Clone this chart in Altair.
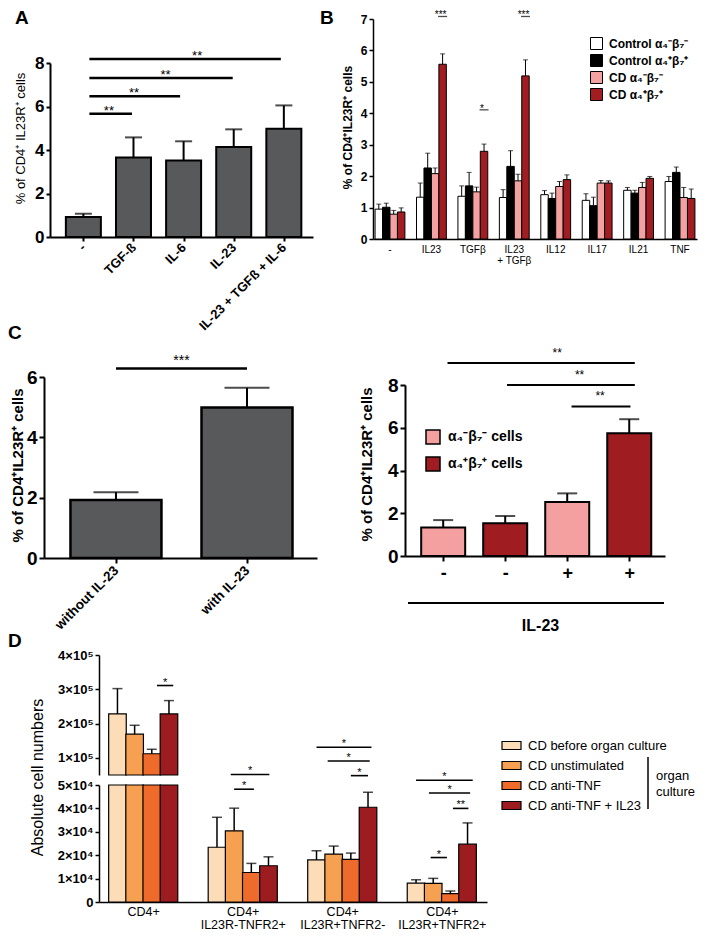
import json
import altair as alt
import pandas as pd

W, H = 692, 924
FONT = "Liberation Sans"
GRAY = "#58595b"

# ---------------- Panel A ----------------
a_cats = ["-", "TGF-ß", "IL-6", "IL-23", "IL-23 + TGFß + IL-6"]
a_vals = [0.92, 3.65, 3.52, 4.14, 4.98]
a_tops = [1.07, 4.58, 4.40, 4.95, 6.05]
a_sig_x1 = [0.12, 0.12, 0.12, 0.12]
a_sig_x2 = [0.97, 1.93, 2.98, 3.94]
a_sig_y = [5.67, 6.47, 7.31, 8.18]
a_sig_tx = [0.51, 1.01, 1.64, 2.27]
a_sig_lab = ["**", "**", "**", "**"]

# ---------------- Panel B ----------------
b_groups = ["-", "IL23", "TGFβ", "IL23\n+ TGFβ", "IL12", "IL17", "IL21", "TNF"]
b_series = ["Control α₄⁻β₇⁻", "Control α₄⁺β₇⁺", "CD α₄⁻β₇⁻", "CD α₄⁺β₇⁺"]
b_colors = ["#ffffff", "#000000", "#f4a1a2", "#a11d21"]
b_ctrl_neg = [0.95, 1.33, 1.36, 1.32, 1.41, 1.23, 1.55, 1.83]
b_ctrl_neg_top = [1.11, 1.78, 1.69, 1.57, 1.54, 1.44, 1.64, 1.99]
b_ctrl_pos = [1.01, 2.26, 1.69, 2.31, 1.29, 1.06, 1.46, 2.12]
b_ctrl_pos_top = [1.14, 2.73, 2.12, 2.81, 1.46, 1.33, 1.55, 2.29]
b_cd_neg = [0.79, 2.08, 1.50, 1.85, 1.67, 1.78, 1.64, 1.32]
b_cd_neg_top = [0.91, 2.26, 1.65, 2.06, 1.83, 1.86, 1.80, 1.64]
b_cd_pos = [0.86, 5.56, 2.79, 5.19, 1.89, 1.78, 1.93, 1.29]
b_cd_pos_top = [0.99, 5.89, 3.02, 5.70, 2.04, 1.85, 1.99, 1.59]
b_sig_groups = ["IL23", "TGFβ", "IL23\n+ TGFβ"]
b_sig_y = [7.08, 4.11, 7.08]
b_sig_lab = ["***", "*", "***"]

# ---------------- Panel C (left) ----------------
cl_cats = ["without IL-23", "with IL-23"]
cl_vals = [1.92, 4.99]
cl_tops = [2.18, 5.64]
cl_sig_x1 = [0.0]
cl_sig_x2 = [1.0]
cl_sig_y = [6.28]
cl_sig_tx = [0.5]
cl_sig_lab = ["***"]

# ---------------- Panel C (right) ----------------
cr_labels = ["-", "-", "+", "+"]
cr_series = ["α₄⁻β₇⁻ cells", "α₄⁺β₇⁺ cells"]
cr_colors = ["#f4a0a1", "#9f1c20"]
cr_bar_series = ["α₄⁻β₇⁻ cells", "α₄⁺β₇⁺ cells", "α₄⁻β₇⁻ cells", "α₄⁺β₇⁺ cells"]
cr_vals = [1.33, 1.53, 2.53, 5.74]
cr_tops = [1.68, 1.87, 2.93, 6.40]
cr_sig_x1 = [0.07, 1.03, 2.07]
cr_sig_x2 = [3.09, 3.09, 3.02]
cr_sig_y = [9.03, 8.0, 7.0]
cr_sig_tx = [1.84, 2.2, 2.53]
cr_sig_lab = ["**", "**", "**"]

# ---------------- Panel D ----------------
d_groups = ["CD4+", "CD4+\nIL23R-TNFR2+", "CD4+\nIL23R+TNFR2-", "CD4+\nIL23R+TNFR2+"]
d_series = ["CD before organ culture", "CD unstimulated", "CD anti-TNF", "CD anti-TNF + IL23"]
d_colors = ["#fddcb8", "#f6a152", "#ee6b2c", "#9d1c20"]
d_before = [228000, 23400, 18000, 8100]
d_before_top = [302000, 36200, 21900, 9500]
d_unstim = [169000, 30400, 20500, 8000]
d_unstim_top = [195000, 40100, 23900, 10100]
d_antitnf = [112000, 12600, 18200, 3600]
d_antitnf_top = [125000, 16500, 20900, 4700]
d_il23 = [228000, 15500, 40500, 24700]
d_il23_top = [267000, 19300, 46900, 33800]
d_sig_g = [0, 1, 1, 2, 2, 2, 3, 3, 3, 3]
d_sig_b1 = [2.3, 1.0, 0.8, 0.0, 0.65, 2.0, 0.0, 0.75, 2.15, 0.85]
d_sig_b2 = [3.25, 2.15, 3.05, 3.2, 3.1, 3.0, 3.3, 3.15, 3.05, 1.8]
d_sig_y = [311000, 48200, 54500, 131000, 91000, 54000, 52000, 46600, 40000, 19000]
d_sig_lab = ["*", "*", "*", "*", "*", "*", "*", "*", "**", "*"]


def js(v):
    return json.dumps(v, ensure_ascii=False)


def lin(d0, d1, r0, r1):
    return alt.Scale(domain=[d0, d1], range=[r0, r1], nice=False, zero=False)


def note(text, x, y, size, weight="bold", align="left", baseline="top"):
    return alt.Chart(pd.DataFrame({"t": [text]})).mark_text(
        fontSize=size, fontWeight=weight, align=align, baseline=baseline,
        font=FONT, color="black").encode(text="t:N", x=alt.value(x), y=alt.value(y))


def yaxis(offset, values, lsize, title, tsize, tweight, tx, ty, tick=4, dw=2, labelExpr=None):
    kw = dict(orient="left", offset=offset, values=values, labelFontSize=lsize,
              labelFontWeight="bold", labelPadding=2, tickSize=tick, tickWidth=dw,
              domainWidth=dw, labelFlush=False, labelOverlap=False, grid=False)
    if title is None:
        kw["title"] = None
    else:
        kw.update(title=title, titleFontSize=tsize, titleFontWeight=tweight,
                  titleAngle=270, titleX=tx, titleY=ty, titleAlign="center",
                  titleBaseline="middle")
    if labelExpr:
        kw["labelExpr"] = labelExpr
    else:
        kw["format"] = "d"
    return alt.Axis(**kw)


# ======== Panel A ========
a_df = pd.DataFrame({"i": list(range(len(a_cats))), "val": a_vals, "top": a_tops})
a_sig = pd.DataFrame({"x1": a_sig_x1, "x2": a_sig_x2, "y": a_sig_y, "tx": a_sig_tx, "lab": a_sig_lab})
ax = lin(-0.566, 4.482, 42, 305)
ay = lin(0, 8, 229, 55)
a_xaxis = alt.Axis(orient="bottom", offset=229 - H, values=list(range(5)),
                   labelExpr=f"{js(a_cats)}[datum.value]", labelAngle=315,
                   labelAlign="right", labelBaseline="middle", labelFontSize=13,
                   labelFontWeight="bold", labelPadding=4, tickSize=4, tickWidth=2,
                   domainWidth=2, title=None, labelFlush=False, labelOverlap=False, grid=False)
a_yaxis = yaxis(-42, [0, 2, 4, 6, 8], 17, "% of CD4⁺ IL23R⁺ cells", 13, "normal", -30, 130)
a_bars = alt.Chart(a_df).mark_bar(size=35, fill=GRAY, stroke="black", strokeWidth=2, orient="vertical").encode(
    x=alt.X("i:Q", scale=ax, axis=a_xaxis), y=alt.Y("val:Q", scale=ay, axis=a_yaxis))
a_err = alt.Chart(a_df).mark_rule(color="black", strokeWidth=2).encode(
    x=alt.X("i:Q", scale=ax), y=alt.Y("val:Q", scale=ay), y2=alt.Y2("top"))
a_cap = alt.Chart(a_df).mark_tick(orient="horizontal", size=17, thickness=2, color="black").encode(
    x=alt.X("i:Q", scale=ax), y=alt.Y("top:Q", scale=ay))
a_sl = alt.Chart(a_sig).mark_rule(color="black", strokeWidth=2.5).encode(
    x=alt.X("x1:Q", scale=ax), x2=alt.X2("x2"), y=alt.Y("y:Q", scale=ay))
a_st = alt.Chart(a_sig).mark_text(fontSize=13, baseline="alphabetic", dy=1, font=FONT, color="black").encode(
    x=alt.X("tx:Q", scale=ax), y=alt.Y("y:Q", scale=ay), text="lab:N")
panelA = alt.layer(a_bars, a_err, a_cap, a_sl, a_st)

# ======== Panel B ========
b_rows = []
for gi, g in enumerate(b_groups):
    for s, vals, tops in zip(b_series, [b_ctrl_neg, b_ctrl_pos, b_cd_neg, b_cd_pos],
                             [b_ctrl_neg_top, b_ctrl_pos_top, b_cd_neg_top, b_cd_pos_top]):
        b_rows.append({"grp": g, "ser": s, "val": vals[gi], "top": tops[gi]})
b_df = pd.DataFrame(b_rows)
b_sig = pd.DataFrame({"grp": b_sig_groups, "ser": [b_series[3]] * len(b_sig_groups),
                      "y": b_sig_y, "lab": b_sig_lab})
bx = alt.Scale(domain=b_groups, range=[365, 689], paddingInner=0.28, paddingOuter=0.05)
bxo = alt.Scale(domain=b_series, paddingInner=0, paddingOuter=0)
by = lin(0, 7, 231, 11)
b_xaxis = alt.Axis(orient="bottom", offset=231 - H, ticks=False, labelExpr="split(datum.label, '\\n')",
                   labelFontSize=10, labelPadding=5, labelAngle=0, labelLineHeight=11,
                   domainWidth=1.5, title=None, grid=False)
b_yaxis = yaxis(-365, list(range(8)), 12, "% of CD4⁺IL23R⁺ cells", 12, "bold", -26, 119, tick=4, dw=1.5)
b_legend = alt.Legend(orient="none", legendX=582, legendY=29, title=None, symbolType="square",
                      symbolSize=144, symbolStrokeColor="black", symbolStrokeWidth=1,
                      labelFontSize=12, labelFontWeight="bold", labelFont=FONT,
                      labelOffset=6, rowPadding=0, padding=0)
bX = alt.X("grp:N", scale=bx)
bXO = alt.XOffset("ser:N", scale=bxo)
b_bars = alt.Chart(b_df).mark_bar(stroke="black", strokeWidth=1).encode(
    x=alt.X("grp:N", scale=bx, axis=b_xaxis), xOffset=bXO,
    y=alt.Y("val:Q", scale=by, axis=b_yaxis),
    fill=alt.Fill("ser:N", scale=alt.Scale(domain=b_series, range=b_colors), legend=b_legend))
b_err = alt.Chart(b_df).mark_rule(color="black", strokeWidth=1).encode(
    x=bX, xOffset=bXO, y=alt.Y("val:Q", scale=by), y2=alt.Y2("top"))
b_cap = alt.Chart(b_df).mark_tick(orient="horizontal", size=5, thickness=1, color="black").encode(
    x=bX, xOffset=bXO, y=alt.Y("top:Q", scale=by))
b_sl = alt.Chart(b_sig).mark_tick(orient="horizontal", size=9, thickness=1.3, color="black").encode(
    x=bX, xOffset=bXO, y=alt.Y("y:Q", scale=by))
b_st = alt.Chart(b_sig).mark_text(fontSize=10, baseline="alphabetic", dy=2, dx=-2, font=FONT, color="black").encode(
    x=bX, xOffset=bXO, y=alt.Y("y:Q", scale=by), text="lab:N")
panelB = alt.layer(b_bars, b_err, b_cap, b_sl, b_st)

# ======== Panel C left ========
cl_df = pd.DataFrame({"i": list(range(len(cl_cats))), "val": cl_vals, "top": cl_tops})
cl_sig = pd.DataFrame({"x1": cl_sig_x1, "x2": cl_sig_x2, "y": cl_sig_y, "tx": cl_sig_tx, "lab": cl_sig_lab})
clx = lin(-0.511, 1.496, 36, 309)
cly = lin(0, 6, 550, 369)
cl_xaxis = alt.Axis(orient="bottom", offset=550 - H, values=[0, 1],
                    labelExpr=f"{js(cl_cats)}[datum.value]", labelAngle=315,
                    labelAlign="right", labelBaseline="middle", labelFontSize=13.5,
                    labelFontWeight="bold", labelPadding=5, tickSize=5, tickWidth=2,
                    domainWidth=2, title=None, labelFlush=False, labelOverlap=False, grid=False)
cl_yaxis = yaxis(-36, [0, 2, 4, 6], 19, "% of CD4⁺IL23R⁺ cells", 15, "bold", -27, 457, tick=5, dw=2)
cl_bars = alt.Chart(cl_df).mark_bar(size=91, fill=GRAY, stroke="black", strokeWidth=2.5, orient="vertical").encode(
    x=alt.X("i:Q", scale=clx, axis=cl_xaxis), y=alt.Y("val:Q", scale=cly, axis=cl_yaxis))
cl_err = alt.Chart(cl_df).mark_rule(color="black", strokeWidth=2).encode(
    x=alt.X("i:Q", scale=clx), y=alt.Y("val:Q", scale=cly), y2=alt.Y2("top"))
cl_cap = alt.Chart(cl_df).mark_tick(orient="horizontal", size=45, thickness=2, color="black").encode(
    x=alt.X("i:Q", scale=clx), y=alt.Y("top:Q", scale=cly))
cl_sl = alt.Chart(cl_sig).mark_rule(color="black", strokeWidth=2.5).encode(
    x=alt.X("x1:Q", scale=clx), x2=alt.X2("x2"), y=alt.Y("y:Q", scale=cly))
cl_st = alt.Chart(cl_sig).mark_text(fontSize=14, baseline="alphabetic", dy=-4, font=FONT, color="black").encode(
    x=alt.X("tx:Q", scale=clx), y=alt.Y("y:Q", scale=cly), text="lab:N")
panelCL = alt.layer(cl_bars, cl_err, cl_cap, cl_sl, cl_st)

# ======== Panel C right ========
cr_df = pd.DataFrame({"i": list(range(len(cr_labels))), "ser": cr_bar_series, "val": cr_vals, "top": cr_tops})
cr_sig = pd.DataFrame({"x1": cr_sig_x1, "x2": cr_sig_x2, "y": cr_sig_y, "tx": cr_sig_tx, "lab": cr_sig_lab})
crx = lin(-0.535, 3.496, 397, 657)
cry = lin(0, 8, 548, 377)
cr_xaxis = alt.Axis(orient="bottom", offset=548 - H, values=[0, 1, 2, 3],
                    labelExpr=f"{js(cr_labels)}[datum.value]", labelAngle=0,
                    labelFontSize=18, labelFontWeight="bold", labelPadding=3, tickSize=5,
                    tickWidth=2, domainWidth=2, labelFlush=False, labelOverlap=False, grid=False,
                    title="IL-23", titleFontSize=16, titleFontWeight="bold", titleX=532, titleY=69,
                    titleAlign="center", titleBaseline="middle")
cr_yaxis = yaxis(-397, [0, 2, 4, 6, 8], 19, "% of CD4⁺IL23R⁺ cells", 15, "bold", -39, 456, tick=5, dw=2)
cr_legend = alt.Legend(orient="none", legendX=417, legendY=421, title=None, symbolType="square",
                       symbolSize=196, symbolStrokeColor="black", symbolStrokeWidth=1.5,
                       labelFontSize=14, labelFontWeight="bold", labelFont=FONT,
                       labelOffset=7, rowPadding=7, padding=0)
cr_bars = alt.Chart(cr_df).mark_bar(size=44, stroke="black", strokeWidth=2, orient="vertical").encode(
    x=alt.X("i:Q", scale=crx, axis=cr_xaxis), y=alt.Y("val:Q", scale=cry, axis=cr_yaxis),
    fill=alt.Fill("ser:N", scale=alt.Scale(domain=cr_series, range=cr_colors), legend=cr_legend))
cr_err = alt.Chart(cr_df).mark_rule(color="black", strokeWidth=2).encode(
    x=alt.X("i:Q", scale=crx), y=alt.Y("val:Q", scale=cry), y2=alt.Y2("top"))
cr_cap = alt.Chart(cr_df).mark_tick(orient="horizontal", size=20, thickness=2, color="black").encode(
    x=alt.X("i:Q", scale=crx), y=alt.Y("top:Q", scale=cry))
cr_sl = alt.Chart(cr_sig).mark_rule(color="black", strokeWidth=2).encode(
    x=alt.X("x1:Q", scale=crx), x2=alt.X2("x2"), y=alt.Y("y:Q", scale=cry))
cr_st = alt.Chart(cr_sig).mark_text(fontSize=12, baseline="alphabetic", dy=-6, font=FONT, color="black").encode(
    x=alt.X("tx:Q", scale=crx), y=alt.Y("y:Q", scale=cry), text="lab:N")
panelCR = alt.layer(cr_bars, cr_err, cr_cap, cr_sl, cr_st)

# ======== Panel D ========
d_rows = []
for gi in range(len(d_groups)):
    for bi, (s, vals, tops) in enumerate(zip(d_series, [d_before, d_unstim, d_antitnf, d_il23],
                                             [d_before_top, d_unstim_top, d_antitnf_top, d_il23_top])):
        d_rows.append({"g": gi, "b": bi, "ser": s, "val": vals[gi], "top": tops[gi]})
d_df = pd.DataFrame(d_rows)
d_sig = pd.DataFrame({"g": d_sig_g, "b1": d_sig_b1, "b2": d_sig_b2, "y": d_sig_y, "lab": d_sig_lab})
BW = 0.1725
POS = f"datum.g + (datum.b - 1.5) * {BW}"
dx = lin(-0.394, 3.404, 91, 479)
dyt = lin(50000, 400000, 767, 647)
dyb = lin(0, 50000, 894, 777)
d_fill_scale = alt.Scale(domain=d_series, range=d_colors)
d_legend = alt.Legend(orient="none", legendX=493, legendY=727, title=None,
                      symbolType="M-1,-0.42H1V0.42H-1Z", symbolSize=361,
                      symbolStrokeColor="black", symbolStrokeWidth=1.2,
                      labelFontSize=13, labelFont=FONT, labelOffset=6, rowPadding=2, padding=0)
dt_yaxis = yaxis(-91, [100000, 200000, 300000, 400000], 13, "Absolute cell numbers", 16, "normal",
                 -62, 769, tick=4, dw=1.5, labelExpr="(datum.value / 100000) + '×10⁵'")
db_yaxis = yaxis(-91, [0, 10000, 20000, 30000, 40000, 50000], 13, None, 0, "normal", 0, 0, tick=4, dw=1.5,
                 labelExpr="datum.value == 0 ? '0' : (datum.value / 10000) + '×10⁴'")
db_xaxis = alt.Axis(orient="bottom", offset=894 - H, values=[0, 1, 2, 3],
                    labelExpr=f"split({js(d_groups)}[datum.value], '\\n')", ticks=False,
                    labelFontSize=12.5, labelPadding=3, labelLineHeight=13, labelAngle=0,
                    domainWidth=1.5, labelFlush=False, labelOverlap=False, grid=False, title=None)

d_base = alt.Chart(d_df).transform_calculate(pos=POS, vb="min(datum.val, 50000)")
sig_base = alt.Chart(d_sig).transform_calculate(
    p1=f"datum.g + (datum.b1 - 1.5) * {BW}", p2=f"datum.g + (datum.b2 - 1.5) * {BW}",
    pm=f"datum.g + ((datum.b1 + datum.b2) / 2 - 1.5) * {BW}")

dXn = alt.X("pos:Q", scale=dx, axis=None)
dt_bars = d_base.transform_filter("datum.val > 50000").mark_bar(
    size=17.6, stroke="black", strokeWidth=1.2, orient="vertical").encode(
    x=dXn, y=alt.Y("val:Q", scale=dyt, axis=dt_yaxis), y2=alt.datum(50000),
    fill=alt.Fill("ser:N", scale=d_fill_scale, legend=d_legend))
dt_err = d_base.transform_filter("datum.top > 50000").mark_rule(color="black", strokeWidth=1.5).encode(
    x=dXn, y=alt.Y("val:Q", scale=dyt), y2=alt.Y2("top"))
dt_cap = d_base.transform_filter("datum.top > 50000").mark_tick(
    orient="horizontal", size=10, thickness=1.5, color="black").encode(
    x=dXn, y=alt.Y("top:Q", scale=dyt))
dt_sl = sig_base.transform_filter("datum.y > 60000").mark_rule(color="black", strokeWidth=1.6).encode(
    x=alt.X("p1:Q", scale=dx, axis=None), x2=alt.X2("p2"), y=alt.Y("y:Q", scale=dyt))
dt_st = sig_base.transform_filter("datum.y > 60000").mark_text(
    fontSize=11, baseline="alphabetic", dy=0, font=FONT, color="black").encode(
    x=alt.X("pm:Q", scale=dx, axis=None), y=alt.Y("y:Q", scale=dyt), text="lab:N")
panelDt = alt.layer(dt_bars, dt_err, dt_cap, dt_sl, dt_st)

dX = alt.X("pos:Q", scale=dx)
db_bars = d_base.mark_bar(size=17.6, stroke="black", strokeWidth=1.2, orient="vertical").encode(
    x=alt.X("pos:Q", scale=dx, axis=db_xaxis), y=alt.Y("vb:Q", scale=dyb, axis=db_yaxis),
    fill=alt.Fill("ser:N", scale=d_fill_scale, legend=None))
db_err = d_base.transform_filter("datum.top <= 50000").mark_rule(color="black", strokeWidth=1.5).encode(
    x=dX, y=alt.Y("val:Q", scale=dyb), y2=alt.Y2("top"))
db_cap = d_base.transform_filter("datum.top <= 50000").mark_tick(
    orient="horizontal", size=10, thickness=1.5, color="black").encode(
    x=dX, y=alt.Y("top:Q", scale=dyb))
db_sl = sig_base.transform_filter("datum.y <= 60000").mark_rule(color="black", strokeWidth=1.6).encode(
    x=alt.X("p1:Q", scale=dx), x2=alt.X2("p2"), y=alt.Y("y:Q", scale=dyb))
db_st = sig_base.transform_filter("datum.y <= 60000").mark_text(
    fontSize=11, baseline="alphabetic", dy=0, font=FONT, color="black").encode(
    x=alt.X("pm:Q", scale=dx), y=alt.Y("y:Q", scale=dyb), text="lab:N")
panelDb = alt.layer(db_bars, db_err, db_cap, db_sl, db_st)

# ======== annotations ========
one = pd.DataFrame({"k": [0]})
ann = [
    note("A", 7, 1, 19),
    note("B", 312, 1, 19),
    note("C", 0, 316, 19),
    note("D", 0, 624, 19),
    alt.Chart(one).mark_rule(color="black", strokeWidth=2).encode(
        x=alt.value(400), x2=alt.value(656), y=alt.value(595)),
    alt.Chart(one).mark_rule(color="black", strokeWidth=1.5).encode(
        x=alt.value(640), y=alt.value(749), y2=alt.value(801)),
    note("organ", 648, 768, 13, weight="normal", baseline="middle"),
    note("culture", 648, 784, 13, weight="normal", baseline="middle"),
]

chart = alt.layer(panelA, panelB, panelCL, panelCR, panelDt, panelDb, *ann).resolve_scale(
    x="independent", y="independent", fill="independent"
).properties(width=W, height=H, padding=0).configure_view(stroke=None).configure_axis(
    grid=False, domainColor="black", tickColor="black", labelColor="black", titleColor="black",
    labelFont=FONT, titleFont=FONT
).configure_text(font=FONT)

chart.save("out.html", embed_options={"renderer": "svg", "actions": False})
